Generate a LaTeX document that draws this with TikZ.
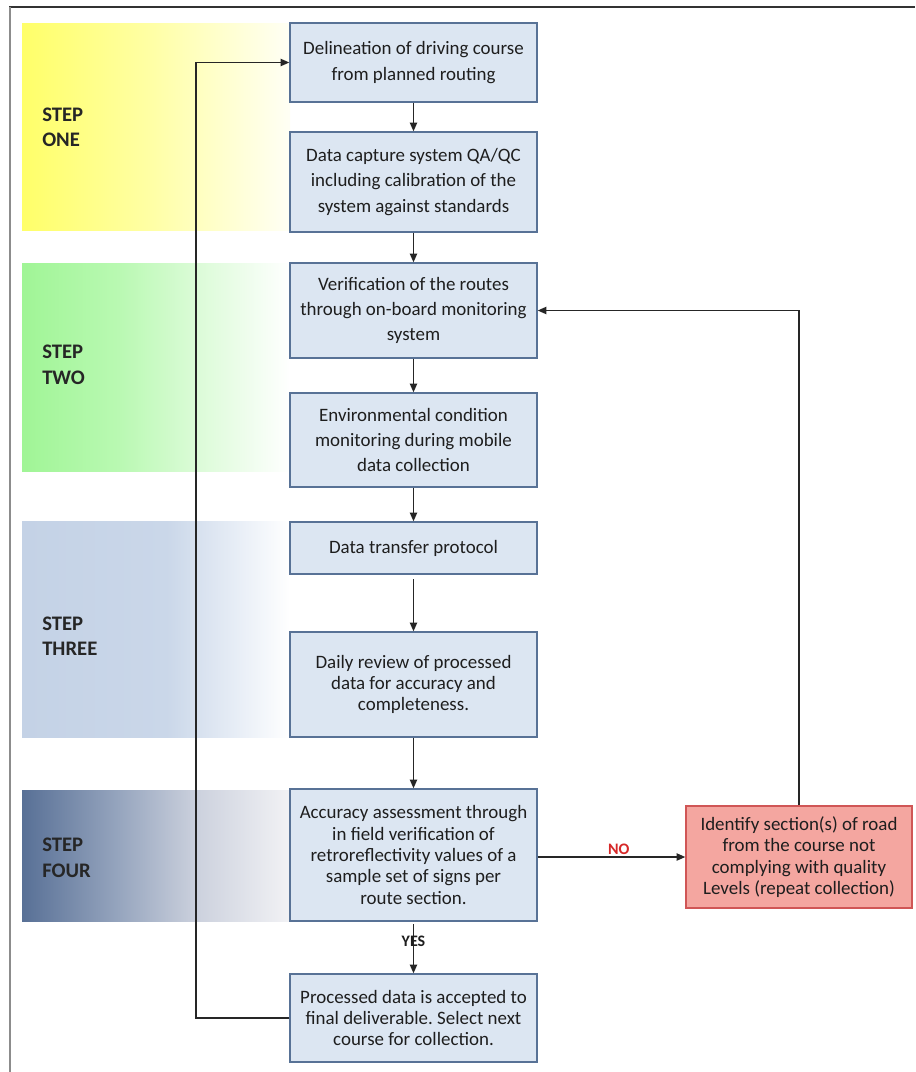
\documentclass[tikz,border=0pt]{standalone}
\usepackage{fontspec}
\setmainfont{Carlito}
\usetikzlibrary{arrows.meta}
\frenchspacing

% palette
\definecolor{boxfill}{RGB}{220,230,242}
\definecolor{boxline}{RGB}{88,114,150}
\definecolor{redfill}{RGB}{244,166,160}
\definecolor{redline}{RGB}{208,86,86}
\definecolor{txt}{RGB}{30,30,30}
\definecolor{nored}{RGB}{214,40,40}
% band colours
\definecolor{yA}{RGB}{255,255,105}
\definecolor{yB}{RGB}{255,255,165}
\definecolor{yC}{RGB}{255,255,245}
\definecolor{gA}{RGB}{160,245,150}
\definecolor{gB}{RGB}{185,249,178}
\definecolor{gC}{RGB}{218,251,214}
\definecolor{bA}{RGB}{196,210,230}
\definecolor{bB}{RGB}{202,215,233}
\definecolor{bC}{RGB}{236,241,248}
\definecolor{dA}{RGB}{88,112,150}
\definecolor{dB}{RGB}{150,165,190}
\definecolor{dC}{RGB}{205,210,222}
\definecolor{dD}{RGB}{242,242,245}

% horizontal fades: 25bp = left edge of the band, 75bp = right edge
\pgfdeclarehorizontalshading{bandone}{100bp}{color(0bp)=(yA); color(25bp)=(yA); color(49bp)=(yB); color(75bp)=(yC); color(100bp)=(yC)}
\pgfdeclarehorizontalshading{bandtwo}{100bp}{color(0bp)=(gA); color(25bp)=(gA); color(43bp)=(gB); color(57bp)=(gC); color(75bp)=(white); color(100bp)=(white)}
\pgfdeclarehorizontalshading{bandthree}{100bp}{color(0bp)=(bA); color(25bp)=(bA); color(52bp)=(bB); color(67bp)=(bC); color(75bp)=(white); color(100bp)=(white)}
\pgfdeclarehorizontalshading{bandfour}{100bp}{color(0bp)=(dA); color(25bp)=(dA); color(43bp)=(dB); color(58bp)=(dC); color(75bp)=(dD); color(100bp)=(dD)}

\tikzset{
  box/.style={draw=boxline, fill=boxfill, line width=1.1pt, minimum width=185.25pt,
    inner sep=0pt, align=center, text=txt, font=\fontsize{14.2}{19}\selectfont},
  tight/.style={font=\fontsize{14.2}{16}\selectfont},
  redbox/.style={box, draw=redline, fill=redfill, minimum width=169.5pt},
  arr/.style={-{Triangle[length=6.5pt,width=5.5pt]}, line width=0.9pt, draw=black!85},
  steplabel/.style={font=\bfseries\fontsize{15.5}{15.5}\selectfont, text=black!85,
    anchor=base west, inner sep=0pt},
  decision/.style={font=\bfseries\fontsize{12}{12}\selectfont, inner sep=1pt},
}

\begin{document}
\begin{tikzpicture}[x=0.75pt,y=-0.75pt]
\useasboundingbox (0,0) rectangle (915,1072);
\fill[white] (0,0) rectangle (915,1072);

% frame lines along the top and left edges
\draw[line width=1.5pt, black!80] (9,7) -- (915,7);
\draw[line width=1.1pt, black!45] (10,7) -- (10,1072);

% phase bands
\shade[shading=bandone]   (22,23)  rectangle (290,230);
\shade[shading=bandtwo]   (22,263) rectangle (290,471);
\shade[shading=bandthree] (22,521) rectangle (290,737);
\shade[shading=bandfour]  (22,790) rectangle (290,921);

% phase labels
\node[steplabel] (s1a) at (42,121) {STEP};
\node[steplabel] (s1b) at (42,146) {ONE};
\node[steplabel] (s2a) at (42,358) {STEP};
\node[steplabel] (s2b) at (42,384) {TWO};
\node[steplabel] (s3a) at (42,630) {STEP};
\node[steplabel] (s3b) at (42,655) {THREE};
\node[steplabel] (s4a) at (42,851) {STEP};
\node[steplabel] (s4b) at (42,877) {FOUR};

% process boxes
\node[box, minimum height=59.25pt] (b1) at (413.5,62.5)
  {Delineation of driving course\\from planned routing};
\node[box, minimum height=75pt] (b2) at (413.5,182)
  {Data capture system QA/QC\\including calibration of the\\system against standards};
\node[box, minimum height=71.25pt] (b3) at (413.5,310.5)
  {Verification of the routes\\through on-board monitoring\\system};
\node[box, minimum height=70.5pt] (b4) at (413.5,440)
  {Environmental condition\\monitoring during mobile\\data collection};
\node[box, minimum height=39pt] (b5) at (413.5,548)
  {Data transfer protocol};
\node[box, tight, minimum height=78.75pt] (b6) at (413.5,684.5)
  {Daily review of processed\\data for accuracy and\\completeness.};
\node[box, tight, minimum height=99pt] (b7) at (413.5,855)
  {Accuracy assessment through\\in field verification of\\retroreflectivity values of a\\sample set of signs per\\route section.};
\node[box, tight, minimum height=66pt] (b8) at (413.5,1018)
  {Processed data is accepted to\\final deliverable. Select next\\course for collection.};
\node[redbox, tight, minimum height=76.5pt] (rep) at (799,857)
  {Identify section(s) of road\\from the course not\\complying with quality\\Levels (repeat collection)};

% main flow
\draw[arr] (b1) -- (b2);
\draw[arr] (b2) -- (b3);
\draw[arr] (b3) -- (b4);
\draw[arr] (b4) -- (b5);
\draw[arr, shorten <=3.5pt] (b5) -- (b6);
\draw[arr] (b6) -- (b7);
\draw[arr, shorten <=2pt] (b7) -- node[decision, text=txt, pos=0.38] {YES} (b8);
\draw[arr] (b7.east |- rep.west) -- node[decision, text=nored, above, pos=0.55] {NO} (rep.west);

% repeat-collection feedback
\draw[arr] (rep.north) |- (b3.east);

% next-course loop back to the start
\coordinate (loop) at (196,62.5);
\draw[arr] (b8.west) -| (loop) -- (b1.west);
\end{tikzpicture}
\end{document}
